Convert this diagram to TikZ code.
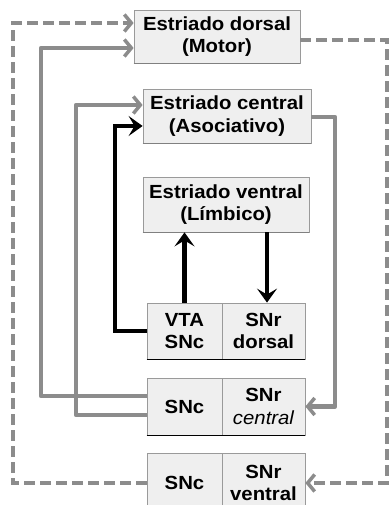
\documentclass[tikz,border=0pt]{standalone}
\usepackage{fontspec}
\setmainfont{Liberation Sans}
\usetikzlibrary{arrows.meta}
\definecolor{boxfill}{HTML}{EFEFEF}
\definecolor{boxline}{HTML}{9A9A9A}
\definecolor{linkgray}{HTML}{8C8C8C}
\newfontfamily\boxfont[FakeStretch=1.07]{Liberation Sans}
\tikzset{
  bigbox/.style={draw=boxline, fill=boxfill, line width=0.8pt, minimum width=166pt,
    minimum height=54pt, inner sep=0pt, align=center, font=\boxfont\fontsize{19}{22.5}\selectfont\bfseries},
  cellbox/.style={draw=boxline, fill=boxfill, line width=0.8pt, minimum height=57pt,
    inner sep=0pt, align=center, font=\boxfont\fontsize{19}{22.5}\selectfont\bfseries},
  graylink/.style={draw=linkgray, line width=4.5pt, line join=round},
  dashlink/.style={draw=linkgray, line width=3.5pt, dash pattern=on 11pt off 5pt},
  blacklink/.style={draw=black, line width=4.5pt},
  graytip/.style={-{Straight Barb[length=7pt,width=17pt,line width=3.5pt]}},
  blacktip/.style={-{Stealth[length=14pt,width=20pt,inset=6pt]}},
}
\begin{document}
\begin{tikzpicture}[x=1pt,y=-1pt]
\useasboundingbox[fill=white] (0,0) rectangle (391,505);

% striatum boxes
\node[bigbox, minimum width=166pt, minimum height=53pt] (dorsal) at (217,36.5) {Estriado dorsal\\(Motor)};
\node[bigbox, minimum width=168pt, minimum height=54pt] (central) at (227,116) {Estriado central\\(Asociativo)};
\node[bigbox, minimum width=166pt, minimum height=55pt] (ventral) at (226,204.5) {Estriado ventral\\(L\'imbico)};

% substantia nigra cells
\node[cellbox, minimum width=75pt, minimum height=56pt] (vta) at (184.5,331) {VTA\\SNc};
\node[cellbox, minimum width=83pt, minimum height=56pt] (snrd) at (263.5,331) {SNr\\dorsal};
\node[cellbox, minimum width=75pt] (snc2) at (184.5,406.5) {SNc};
\node[cellbox, minimum width=83pt] (snrc) at (263.5,406.5) {SNr\\{\mdseries\itshape central}};
\node[cellbox, minimum width=75pt, minimum height=60pt] (snc3) at (184.5,483) {SNc};
\node[cellbox, minimum width=83pt, minimum height=60pt] (snrv) at (263.5,483) {SNr\\ventral};

% darker lower edges
\draw[black, line width=1.2pt] (vta.south west) -- (snrd.south east);
\draw[black, line width=1.2pt] (snc2.south west) -- (snrc.south east);
\draw[gray, line width=1pt] (dorsal.south west) -- (dorsal.south east);
\draw[gray, line width=1pt] (central.south west) -- (central.south east);
\draw[gray, line width=1pt] (ventral.south west) -- (ventral.south east);

% corner points of the loops
\coordinate (dL) at (13,23);
\coordinate (dR) at (387,40);
\coordinate (gL) at (41,48);
\coordinate (gI) at (76,105);
\coordinate (gR) at (335,117);
\coordinate (bL) at (115,126);

% ventral loop (dashed)
\draw[dashlink, graytip] (snc3.west) -| (dL) -- (dorsal.west |- dL);
\draw[dashlink, graytip] (dorsal.east |- dR) -- (dR) |- (snrv.east);

% central loop (solid gray)
\draw[graylink, graytip] ([yshift=10.5pt]snc2.west) -| (gL) -- (dorsal.west |- gL);
\draw[graylink, graytip] ([yshift=-8.5pt]snc2.west) -| (gI) -- (central.west |- gI);
\draw[graylink, graytip] (central.east |- gR) -- (gR) |- (snrc.east);

% dorsal loop (black)
\draw[blacklink, blacktip] (vta.west) -| (bL) -- (central.west |- bL);
\draw[blacklink, blacktip] (vta.north) -- (vta.north |- ventral.south);
\draw[blacklink, blacktip] ([xshift=41pt]ventral.south) -- ([xshift=41pt]ventral.south |- snrd.north);
\end{tikzpicture}
\end{document}
